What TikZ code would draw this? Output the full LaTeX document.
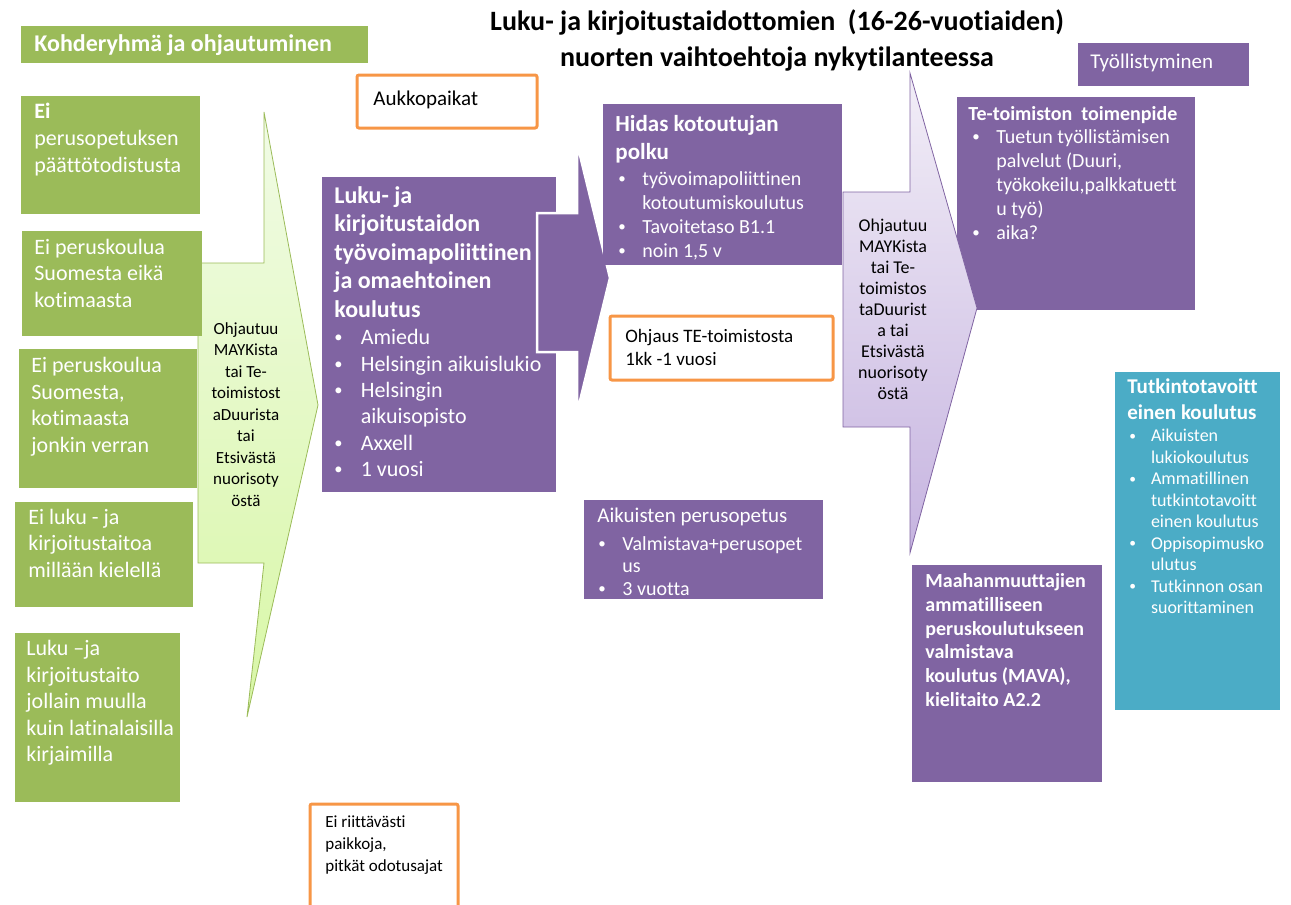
\documentclass[tikz,border=0pt]{standalone}
\usepackage{fontspec}
\setmainfont{Carlito}[Ligatures={TeX,CommonOff}]

\definecolor{kgreen}{HTML}{9BBB59}
\definecolor{kpurple}{HTML}{8064A2}
\definecolor{kteal}{HTML}{4BACC6}
\definecolor{korange}{HTML}{F79646}
\definecolor{arrgreentop}{HTML}{F1FBE6}
\definecolor{arrgreenbot}{HTML}{D8F7A6}
\definecolor{arrliltop}{HTML}{F2EEF7}
\definecolor{arrlilbot}{HTML}{C6B4E0}

\newcommand{\kf}[2]{\fontsize{#1}{#2}\selectfont}
\newcommand{\kbul}[1]{\makebox[1.2em][l]{\raisebox{0.08em}{\scalebox{0.75}{\textbullet}}}#1}
\newcommand{\kcont}[1]{\hspace*{1.2em}#1}

\tikzset{
  wtext/.style={anchor=north west, inner sep=0pt, align=left, text=white},
  btext/.style={anchor=north west, inner sep=0pt, align=left, text=black},
  ctext/.style={anchor=north, inner sep=0pt, align=center, text=black},
  gbox/.style={fill=kgreen},
  pbox/.style={fill=kpurple},
  obox/.style={draw=korange, line width=1.5pt, fill=white, rounded corners=1pt},
}

\begin{document}
\begin{tikzpicture}[x=0.5pt,y=-0.5pt]
	\useasboundingbox (0,0) rectangle (1291,905);

	% ohjautuminen arrow (green)
	\draw[draw=kgreen, top color=arrgreentop, bottom color=arrgreenbot]
		(198,263) -- (264,263) -- (264,112) -- (318,405) -- (247,717) -- (264,563) -- (198,563) -- cycle;
	\node[ctext, font=\kf{8.5}{10.75}] (ohjgreen) at (246,322)
		{Ohjautuu\\MAYKista\\tai Te-\\toimistost\\aDuurista\\tai\\Etsivästä\\nuorisoty\\östä};

	% kohderyhma
	\fill[gbox] (21,26) rectangle (368,63);
	\node[wtext, anchor=west, font=\kf{12}{14}\bfseries] (kohde) at (34,45) {Kohderyhmä ja ohjautuminen};

	\fill[gbox] (21,96) rectangle (200,214);
	\node[wtext, font=\kf{11}{13.4}] (eiperus) at (34,103) {\textbf{Ei}\\perusopetuksen\\päättötodistusta};
	\fill[gbox] (22,231) rectangle (202,336);
	\node[wtext, font=\kf{11}{13.1}] (eikoulu) at (34,239) {Ei peruskoulua\\Suomesta eikä\\kotimaasta};
	\fill[gbox] (19,349) rectangle (197,488);
	\node[wtext, font=\kf{11}{13.3}] (jonkin) at (31,357) {Ei peruskoulua\\Suomesta,\\kotimaasta\\jonkin verran};
	\fill[gbox] (15,502) rectangle (193,607);
	\node[wtext, font=\kf{11}{13.1}] (eiluku) at (28,509) {Ei luku - ja\\kirjoitustaitoa\\millään kielellä};
	\fill[gbox] (15,633) rectangle (180,802);
	\node[wtext, font=\kf{11}{13.25}] (latina) at (26,640) {Luku –ja\\kirjoitustaito\\jollain muulla\\kuin latinalaisilla\\kirjaimilla};

	% luku- ja kirjoitustaidon koulutus
	\fill[pbox] (322,177) rectangle (556,492);
	\draw[white, line width=1.25pt, fill=kpurple]
		(537,213) -- (577,213) -- (577,143) -- (610,278) -- (577,413) -- (577,352) -- (537,352) -- cycle;
	\node[wtext, font=\kf{12}{14.25}\bfseries] (lukuhead) at (334,186)
		{Luku- ja\\kirjoitustaidon\\työvoimapoliittinen\\ja omaehtoinen\\koulutus};
	\node[wtext, font=\kf{11}{13.2}] (lukulist) at (334,329)
		{\kbul{Amiedu}\\\kbul{Helsingin aikuislukio}\\\kbul{Helsingin}\\\kcont{aikuisopisto}\\\kbul{Axxell}\\\kbul{1 vuosi}};

	% orange notes
	\draw[obox] (357,75) rectangle (537,128);
	\node[btext, anchor=west, font=\kf{10.5}{13}] (aukko) at (373,100) {Aukkopaikat};
	\draw[obox] (610,316) rectangle (833,380);
	\node[btext, font=\kf{9.5}{11.5}] (ohjaus) at (625,329) {Ohjaus TE-toimistosta\\1kk -1 vuosi};
	\draw[obox] (310,804) rectangle (458,912);
	\node[btext, font=\kf{8.5}{11}] (riitt) at (325,815) {Ei riittävästi\\paikkoja,\\pitkät odotusajat};

	% hidas kotoutujan polku
	\fill[pbox] (603,104) rectangle (842,265);
	\node[wtext, font=\kf{11.5}{14}\bfseries] (hidashead) at (615,115) {Hidas kotoutujan\\polku};
	\node[wtext, font=\kf{10}{12}] (hidaslist) at (618,171)
		{\kbul{työvoimapoliittinen}\\\kcont{kotoutumiskoulutus}\\\kbul{Tavoitetaso B1.1}\\\kbul{noin 1,5 v}};

	% aikuisten perusopetus
	\fill[pbox] (584,500) rectangle (823,599);
	\node[wtext, anchor=west, font=\kf{10.5}{13}] (aikhead) at (597,517) {Aikuisten perusopetus};
	\node[wtext, font=\kf{10}{11.25}] (aiklist) at (598,536)
		{\kbul{Valmistava+perusopet}\\\kcont{us}\\\kbul{3 vuotta}};

	% te-toimisto
	\fill[pbox] (957,97) rectangle (1195,310);
	\node[wtext, anchor=west, font=\kf{10}{12}\bfseries] (tehead) at (968,115) {Te-toimiston\ \ toimenpide};
	\node[wtext, font=\kf{10}{12}] (telist) at (972,129)
		{\kbul{Tuetun työllistämisen}\\\kcont{palvelut (Duuri,}\\\kcont{työkokeilu,palkkatuett}\\\kcont{u työ)}\\\kbul{aika?}};

	% ohjautuminen arrow (lilac)
	\draw[draw=kpurple, top color=arrliltop, bottom color=arrlilbot]
		(843,192) -- (910,192) -- (910,73) -- (977,308) -- (910,553) -- (910,427) -- (843,427) -- cycle;
	\node[ctext, font=\kf{9}{10.5}] (ohjlil) at (893,219)
		{Ohjautuu\\MAYKista\\tai Te-\\toimistos\\taDuurist\\a tai\\Etsivästä\\nuorisoty\\östä};

	% tyollistyminen
	\fill[pbox] (1078,43) rectangle (1249,86);
	\node[wtext, anchor=west, font=\kf{10.5}{13}] (tyoll) at (1090,63) {Työllistyminen};

	% tutkintotavoitteinen
	\fill[kteal] (1115,372) rectangle (1280,710);
	\node[wtext, font=\kf{10.5}{13}\bfseries] (tutkhead) at (1127,378) {Tutkintotavoitt\\einen koulutus};
	\node[wtext, font=\kf{9}{10.75}] (tutklist) at (1129,429)
		{\kbul{Aikuisten}\\\kcont{lukiokoulutus}\\\kbul{Ammatillinen}\\\kcont{tutkintotavoitt}\\\kcont{einen koulutus}\\\kbul{Oppisopimusko}\\\kcont{ulutus}\\\kbul{Tutkinnon osan}\\\kcont{suorittaminen}};

	% mava
	\fill[pbox] (912,565) rectangle (1102,782);
	\node[wtext, font=\kf{10}{11.9}\bfseries] (mava) at (925,573)
		{Maahanmuuttajien\\ammatilliseen\\peruskoulutukseen\\valmistava\\koulutus (MAVA),\\kielitaito A2.2};

	% title
	\node[ctext, font=\kf{14}{18}\bfseries] (title) at (777,9)
		{Luku- ja kirjoitustaidottomien\ \ (16-26-vuotiaiden)\\nuorten vaihtoehtoja nykytilanteessa};
\end{tikzpicture}
\end{document}
